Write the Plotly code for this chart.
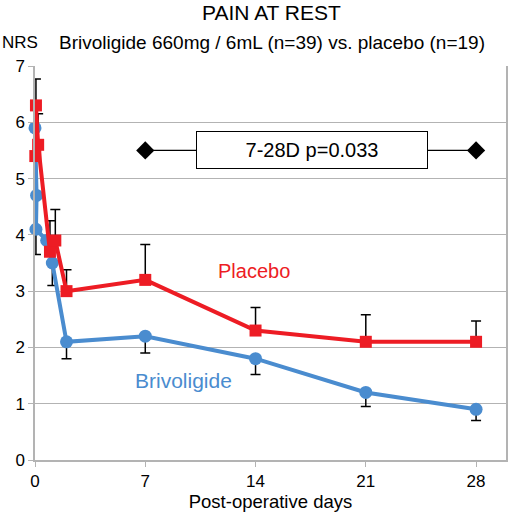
import plotly.graph_objects as go

# Brivoligide (blue)
briv_days = [0.0, 0.1, 0.06, 0.74, 1.1, 2, 7, 14, 21, 28]
briv_nrs = [5.9, 4.7, 4.1, 3.9, 3.5, 2.1, 2.2, 1.8, 1.2, 0.9]
briv_err_minus = [0.0, 0.0, 0.45, 0.0, 0.4, 0.3, 0.3, 0.28, 0.25, 0.2]

# Placebo (red)
plac_days = [0.02, 0.06, 0.2, 0.95, 1.29, 2, 7, 14, 21, 28]
plac_nrs = [5.4, 6.3, 5.6, 3.7, 3.9, 3.0, 3.2, 2.3, 2.1, 2.1]
plac_err_plus = [0.0, 0.47, 0.55, 0.55, 0.55, 0.38, 0.63, 0.41, 0.48, 0.37]

x_ticks = [0, 7, 14, 21, 28]
y_ticks = [0, 1, 2, 3, 4, 5, 6, 7]

sig_days = [7, 28]
sig_level = [5.5, 5.5]
sig_text = "7-28D p=0.033"

RED = "#ed1c24"
BLUE = "#4a8ccf"
FONT = "Liberation Sans, Arial, sans-serif"

fig = go.Figure()

fig.add_trace(go.Scatter(
    x=briv_days, y=briv_nrs, mode="lines+markers", cliponaxis=False,
    line=dict(color=BLUE, width=4),
    marker=dict(symbol="circle", size=13, color=BLUE),
    error_y=dict(type="data", symmetric=False,
                 array=[0] * len(briv_nrs), arrayminus=briv_err_minus,
                 color="black", thickness=1.5, width=5),
    showlegend=False,
))

fig.add_trace(go.Scatter(
    x=plac_days, y=plac_nrs, mode="lines+markers", cliponaxis=False,
    line=dict(color=RED, width=4),
    marker=dict(symbol="square", size=12, color=RED),
    error_y=dict(type="data", symmetric=False,
                 array=plac_err_plus, arrayminus=[0] * len(plac_nrs),
                 color="black", thickness=1.5, width=5),
    showlegend=False,
))

fig.add_trace(go.Scatter(
    x=sig_days, y=sig_level, mode="lines+markers",
    line=dict(color="black", width=1.2),
    marker=dict(symbol="diamond", size=14, color="black"),
    showlegend=False,
))

fig.add_annotation(
    x=17.6, y=5.5, xref="x", yref="y", text=sig_text, showarrow=False,
    font=dict(family=FONT, size=20, color="black"),
    bordercolor="black", borderwidth=1, bgcolor="white",
    width=228, height=34,
)
fig.add_annotation(x=13.9, y=3.35, xref="x", yref="y", text="Placebo", showarrow=False,
                   xanchor="center", font=dict(family=FONT, size=20, color=RED))
fig.add_annotation(x=9.4, y=1.42, xref="x", yref="y", text="Brivoligide", showarrow=False,
                   xanchor="center", font=dict(family=FONT, size=21, color=BLUE))

fig.add_annotation(x=271, y=13, text="PAIN AT REST", showarrow=False,
                   font=dict(family=FONT, size=21, color="black"))
fig.add_annotation(text="Brivoligide 660mg / 6mL (n=39) vs. placebo (n=19)", showarrow=False,
                   x=271.5, y=42, font=dict(family=FONT, size=19, color="black"))
fig.add_annotation(text="NRS", showarrow=False, x=20, y=42,
                   font=dict(family=FONT, size=17, color="black"))

W, H = 509, 516
L, R, T, B = 35, 3, 66, 56
pw, ph = W - L - R, H - T - B
for a in fig.layout.annotations[3:]:
    px, py = a.x, a.y
    a.xref = "paper"
    a.yref = "paper"
    a.x = (px - L) / pw
    a.y = (H - B - py) / ph
    a.yanchor = "middle"
    a.xanchor = "center"

fig.update_layout(
    width=W, height=H,
    margin=dict(l=L, r=R, t=T, b=B),
    paper_bgcolor="white", plot_bgcolor="white",
    font=dict(family=FONT, size=17, color="black"),
    xaxis=dict(range=[0, 29.9], tickvals=x_ticks, showgrid=False, automargin=False,
               showline=True, linecolor="#b3b3b3", linewidth=1.5,
               ticks="outside", ticklen=5, tickcolor="#b3b3b3",
               mirror=False, zeroline=False,
               tickfont=dict(size=17),
               title=dict(text="Post-operative days", font=dict(size=18.5), standoff=3)),
    yaxis=dict(range=[0, 7], tickvals=y_ticks, showgrid=True, gridcolor="#b3b3b3", gridwidth=1,
               automargin=False,
               showline=True, linecolor="#b3b3b3", linewidth=1.5,
               ticks="outside", ticklen=5, tickcolor="#b3b3b3",
               mirror=True, zeroline=False, tickfont=dict(size=17)),
)

fig.write_html(
    "out.html",
    config={"displayModeBar": False},
    post_script="document.body.style.margin='0';document.body.style.overflow='hidden';",
)
